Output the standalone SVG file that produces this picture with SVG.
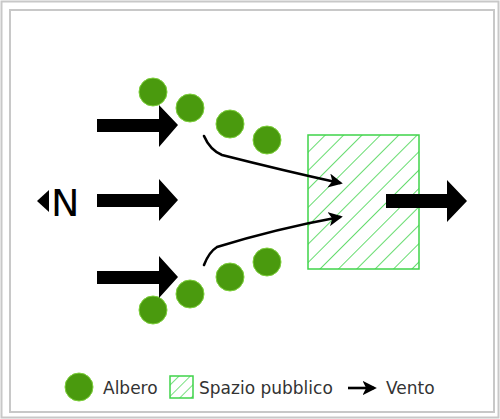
<svg xmlns="http://www.w3.org/2000/svg" width="500" height="419" viewBox="0 0 500 419">
<defs>
<style>
.frame{fill:none;stroke:#c8c8c8;stroke-width:2}
.tree{fill:#4a9a0e;stroke:#7ccf3a;stroke-width:1}
.big{fill:#000}
.wind{fill:none;stroke:#000;stroke-width:2.6;stroke-linecap:round}
.space{fill:url(#hatch);stroke:#3fd34a;stroke-width:1.5}
.lbl{font-family:"DejaVu Sans",Verdana,sans-serif;font-size:17px;fill:#333}
</style>
<pattern id="hatch" patternUnits="userSpaceOnUse" width="13" height="13" patternTransform="rotate(45)">
<rect width="13" height="13" fill="#fff"/>
<line x1="0" y1="0" x2="0" y2="13" stroke="#3fd34a" stroke-width="1.6"/>
</pattern>
<pattern id="hatchS" patternUnits="userSpaceOnUse" width="8" height="8" patternTransform="rotate(45)">
<rect width="8" height="8" fill="#fff"/>
<line x1="0" y1="0" x2="0" y2="8" stroke="#3fd34a" stroke-width="1.4"/>
</pattern>
<marker id="ah" viewBox="0 0 10 10" refX="8" refY="5" markerWidth="5.5" markerHeight="5.5" orient="auto" markerUnits="strokeWidth">
<path d="M0,0 L10,5 L0,10 L2.5,5 Z" fill="#000"/>
</marker>
</defs>
<rect class="frame" x="1.5" y="1.5" width="497" height="416"/>
<rect class="frame" x="10" y="10" width="484" height="402"/>

<g id="trees">
<circle class="tree" cx="153" cy="92" r="14"/>
<circle class="tree" cx="190" cy="108" r="14"/>
<circle class="tree" cx="230" cy="124" r="14"/>
<circle class="tree" cx="267" cy="140" r="14"/>
<circle class="tree" cx="153" cy="310" r="14"/>
<circle class="tree" cx="190" cy="294" r="14"/>
<circle class="tree" cx="230" cy="277" r="14"/>
<circle class="tree" cx="267" cy="262" r="14"/>
</g>

<g id="public-space">
<rect class="space" x="308" y="135" width="111" height="134"/>
</g>

<g id="north">
<polygon class="big" points="37,201 49,190 49,212"/>
<text x="51" y="216" font-family="DejaVu Sans,Verdana,sans-serif" font-size="38" fill="#000">N</text>
</g>

<g id="connectors">
<path class="big" d="M97,119 H159 V105 L178,125 L159,147 V132 H97 Z"/>
<path class="big" d="M97,194 H159 V179 L178,200 L159,221 V207 H97 Z"/>
<path class="big" d="M97,271 H159 V256 L178,277 L159,298 V284 H97 Z"/>
<path class="big" d="M386,194 H447 V180 L467,201 L447,222 V208 H386 Z"/>
<path class="wind" d="M204,136 Q210,150 222,155 Q285,171 340,183" marker-end="url(#ah)"/>
<path class="wind" d="M204,265 Q209,252 217,247 Q275,229 340,217" marker-end="url(#ah)"/>
</g>

<g id="legend">
<circle class="tree" cx="79" cy="387" r="14"/>
<text class="lbl" x="103" y="394">Albero</text>
<rect x="170" y="376" width="23" height="22" fill="url(#hatchS)" stroke="#3fd34a" stroke-width="1.5"/>
<text class="lbl" x="199" y="394">Spazio pubblico</text>
<line x1="348" y1="388" x2="374" y2="388" stroke="#000" stroke-width="2.6" marker-end="url(#ah)"/>
<text class="lbl" x="386" y="394">Vento</text>
</g>
</svg>
